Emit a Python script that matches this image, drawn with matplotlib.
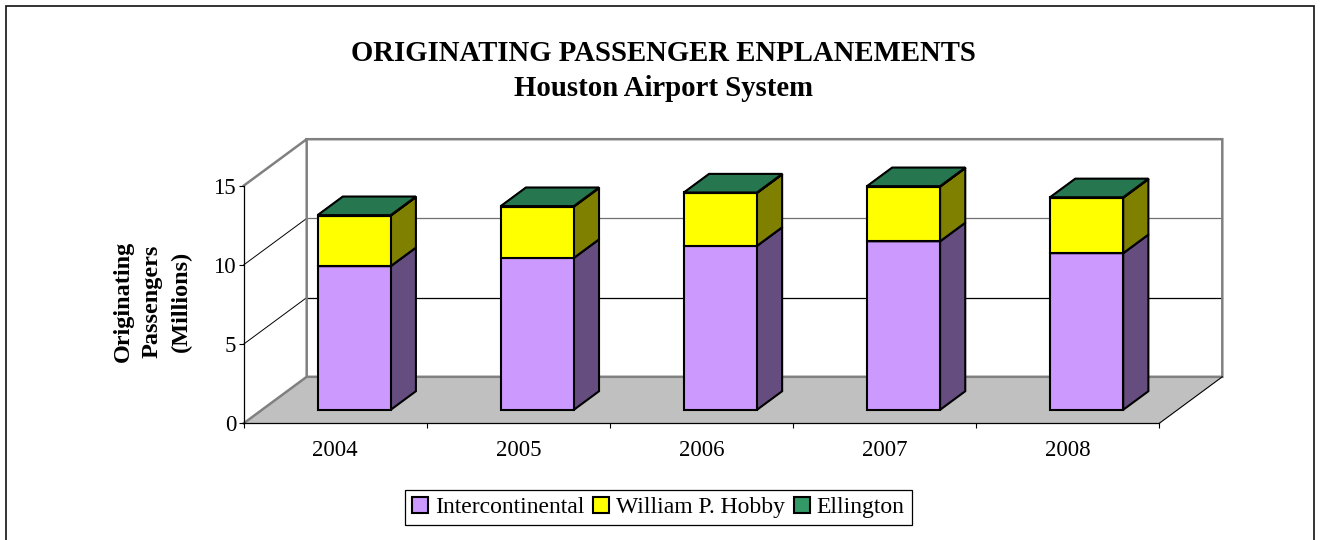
import matplotlib
matplotlib.use("Agg")
import matplotlib.pyplot as plt
from matplotlib.patches import Polygon, Patch, Rectangle

plt.rcParams['font.family'] = ['Liberation Serif', 'DejaVu Serif']

years = ['2004', '2005', '2006', '2007', '2008']
intercontinental = [9.07, 9.59, 10.35, 10.64, 9.89]
hobby = [3.19, 3.24, 3.34, 3.45, 3.50]
ellington = [0.03, 0.03, 0.03, 0.03, 0.03]
series_names = ['Intercontinental', 'William P. Hobby', 'Ellington']
face_colors = ['#CC99FF', '#FFFF00', '#339966']
side_colors = ['#664D80', '#808000', '#1A4D33']
top_colors = ['#CC99FF', '#FFFF00', '#267650']
y_ticks = [0, 5, 10, 15]
title = 'ORIGINATING PASSENGER ENPLANEMENTS\nHouston Airport System'
y_label = 'Originating\nPassengers\n(Millions)'

W, H = 1320, 540
fig = plt.figure(figsize=(W / 100, H / 100), dpi=100, facecolor='white')

# Outer chart frame
fig.add_artist(Rectangle((6 / W, -0.05), (1314 - 6) / W, (534 + 27) / H, transform=fig.transFigure,
                         fill=False, edgecolor='#1A1A1A', linewidth=1.25))

L, R, T, B = 243.7, 1159.3, 185.7, 423.3
ax = fig.add_axes([L / W, 1 - B / H, (R - L) / W, (B - T) / H])
ax.set_xlim(0, 5)
ax.set_ylim(0, 15)
ax.patch.set_visible(False)

DX = 63 / ((R - L) / 5)        # depth offset, in category units
DY = 46.5 / ((B - T) / 15)     # depth offset, in value units


def proj(x, y, d):
    return (x + d * DX, y + d * DY)


def poly(points, face, edge, lw, z):
    ax.add_patch(Polygon(points, closed=True, facecolor=face, edgecolor=edge, linewidth=lw,
                         joinstyle='miter', clip_on=False, zorder=z))


# Floor
poly([proj(0, 0, 0), proj(5, 0, 0), proj(5, 0, 1), proj(0, 0, 1)], '#C0C0C0', 'none', 0, 1)

# Walls
wall = '#808080'
ax.plot(*zip(proj(0, 15, 0), proj(0, 15, 1), proj(5, 15, 1), proj(5, 0, 1), proj(0, 0, 1), proj(0, 15, 1)),
        color=wall, lw=1.8, clip_on=False, zorder=1.5, solid_joinstyle='miter')
ax.plot(*zip(proj(0, 0, 0), proj(0, 0, 1)), color=wall, lw=1.8, clip_on=False, zorder=1.5)
ax.plot(*zip(proj(5, 0, 0), proj(5, 0, 1)), color='black', lw=0.8, clip_on=False, zorder=1.5)

# Gridlines on side wall and back wall
for v, c in zip(y_ticks[1:3], ['black', '#707070']):
    ax.plot(*zip(proj(0, v, 0), proj(0, v, 1)), color='black', lw=0.7, clip_on=False, zorder=1.4)
    ax.plot(*zip(proj(0, v, 1), proj(5, v, 1)), color=c, lw=0.9, clip_on=False, zorder=1.4)

# Bars
BAR_L, BAR_W = 0.304, 0.399
D0, D1 = 0.29, 0.69
z = 3.0
for i in range(len(years)):
    x0 = i + BAR_L
    x1 = x0 + BAR_W
    base = 0.0
    for values, fc, sc, tc in zip([intercontinental, hobby, ellington], face_colors, side_colors, top_colors):
        top = base + values[i]
        poly([proj(x1, base, D0), proj(x1, base, D1), proj(x1, top, D1), proj(x1, top, D0)], sc, 'black', 1.5, z)
        poly([proj(x0, base, D0), proj(x1, base, D0), proj(x1, top, D0), proj(x0, top, D0)], fc, 'black', 1.5, z + 0.01)
        poly([proj(x0, top, D0), proj(x1, top, D0), proj(x1, top, D1), proj(x0, top, D1)], tc, 'black', 1.5, z + 0.02)
        base = top
        z += 0.1

# Axes
for s in ['top', 'right']:
    ax.spines[s].set_visible(False)
for s in ['left', 'bottom']:
    ax.spines[s].set_linewidth(0.9)
ax.set_yticks(y_ticks)
ax.set_xticks(range(6))
ax.set_xticklabels([])
ax.set_xticks([i + 0.5 for i in range(5)], minor=True)
ax.set_xticklabels(years, minor=True, fontsize=16.5)
ax.tick_params(axis='x', which='major', length=3.5, width=0.8, direction='out')
ax.tick_params(axis='x', which='minor', length=0, pad=12)
ax.tick_params(axis='y', length=3.5, width=0.8, direction='out', labelsize=16.5, pad=2)

fig.text(663 / W, 1 - 71 / H, title, ha='center', va='center', fontsize=20.7, fontweight='bold', linespacing=1.37)
fig.text(152.5 / W, 1 - 301.5 / H, y_label, ha='center', va='center', rotation=90,
         fontsize=17.5, fontweight='bold', linespacing=1.5, multialignment='center')

handles = [Patch(facecolor=f, edgecolor='black', linewidth=1.5) for f in face_colors]
leg = fig.legend(handles, series_names, loc='center', bbox_to_anchor=(658.5 / W, 1 - 507.5 / H),
                 ncol=3, frameon=True, fancybox=False, framealpha=1, edgecolor='black',
                 fontsize=17, handlelength=0.68, handleheight=0.68, handletextpad=0.3,
                 columnspacing=0.35, borderpad=0.3, borderaxespad=0)
leg.get_frame().set_linewidth(0.9)

fig.savefig('out.png', dpi=100)
